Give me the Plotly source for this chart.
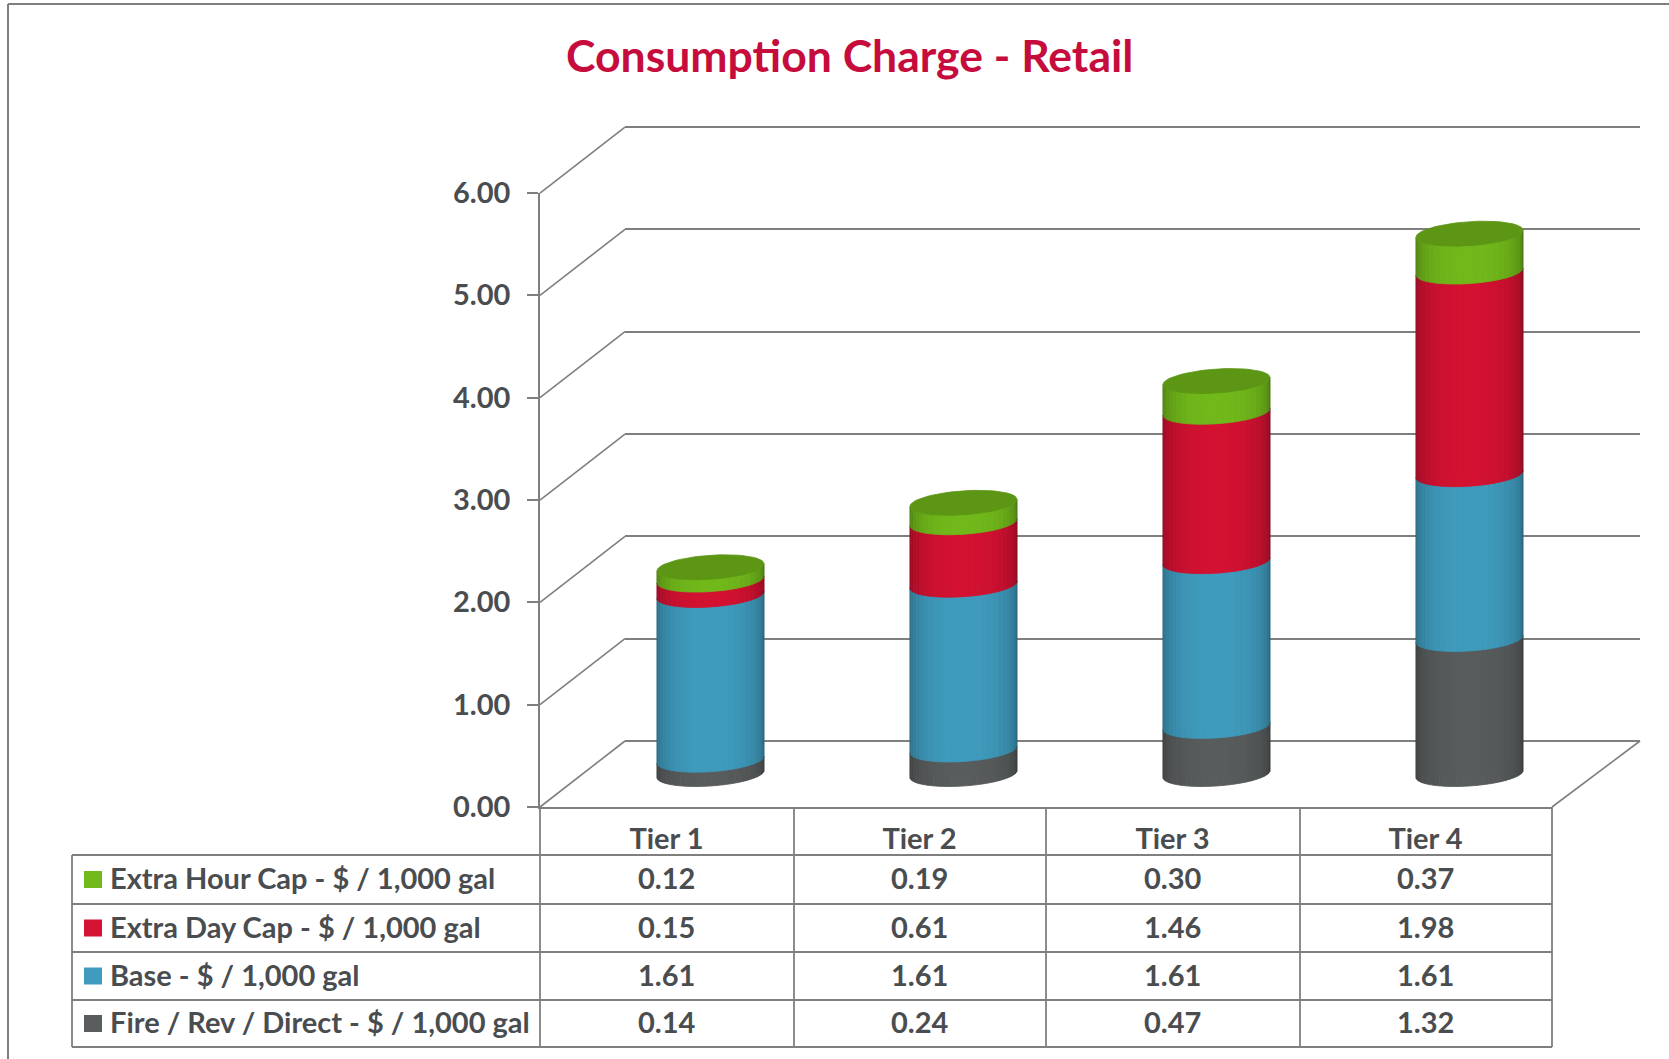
import math
import plotly.graph_objects as go

# ---- data ----
tiers = ["Tier 1", "Tier 2", "Tier 3", "Tier 4"]
fire = [0.14, 0.24, 0.47, 1.32]
base = [1.61, 1.61, 1.61, 1.61]
extra_day = [0.15, 0.61, 1.46, 1.98]
extra_hour = [0.12, 0.19, 0.30, 0.37]
y_ticks = [0, 1, 2, 3, 4, 5, 6]
name_fire = "Fire / Rev / Direct - $ / 1,000 gal"
name_base = "Base - $ / 1,000 gal"
name_day = "Extra Day Cap - $ / 1,000 gal"
name_hour = "Extra Hour Cap - $ / 1,000 gal"
title_text = "Consumption Charge - Retail"

# ---- geometry / style ----
W, H = 1669, 1059
FONT = "Lato"
TXT = "#4a4d50"
LINE = "#7f7f7f"
px = lambda v: v / W
py = lambda v: 1 - v / H
UNIT = 102.33          # pixels per value unit
CAT = 253.0            # pixels per category
A, B, S = 53.5, 12.0, 3.5   # cylinder ellipse, pixels
PAD = 0.3              # extra axis room (value units) so nothing is clipped at the ends

series = [
    dict(name=name_fire, vals=fire, col=(90, 93, 94), cap=(70, 72, 73)),
    dict(name=name_base, vals=base, col=(64, 156, 190), cap=(50, 130, 160)),
    dict(name=name_day, vals=extra_day, col=(212, 18, 50), cap=(170, 14, 40)),
    dict(name=name_hour, vals=extra_hour, col=(114, 186, 28), cap=(92, 150, 20)),
]


def rgb(c, f=1.0):
    return "rgb(%d,%d,%d)" % tuple(min(255, int(v * f)) for v in c)


def arc_dy(t):
    """vertical offset (value units) of the ellipse at angle t"""
    return -(B * math.sin(t) - S * math.cos(t)) / UNIT


def arc_dx(t):
    return A * math.cos(t) / CAT


fig = go.Figure()

# empty traces so every axis pair exists
fig.add_trace(go.Scatter(x=[], y=[], xaxis="x", yaxis="y", showlegend=False))
fig.add_trace(go.Scatter(x=[], y=[], xaxis="x2", yaxis="y2", showlegend=False))

# the stacked bars themselves
for s in series:
    fig.add_trace(go.Bar(x=list(range(len(tiers))), y=s["vals"], name=s["name"],
                         width=0.38, xaxis="x3", yaxis="y3", showlegend=False,
                         marker=dict(color=rgb(s["col"]), line=dict(width=0))))

# cylinder shading: strips across the round front of every stacked segment
N = 26
stack = [0.0] * len(tiers)
for s in series:
    for k in range(N):
        t0 = math.pi * (1 - k / N)
        t1 = math.pi * (1 - (k + 1) / N)
        tm = (t0 + t1) / 2
        sv = math.sin(tm)
        shade = 0.58 + 0.42 * sv ** 0.6
        xs, ys = [], []
        for i in range(len(tiers)):
            lo = stack[i]
            hi = stack[i] + s["vals"][i]
            xs += [i + arc_dx(t0), i + arc_dx(t1), i + arc_dx(t1), i + arc_dx(t0), i + arc_dx(t0), None]
            ys += [lo + arc_dy(t0), lo + arc_dy(t1), hi + arc_dy(t1), hi + arc_dy(t0), lo + arc_dy(t0), None]
        c = rgb(s["col"], shade)
        fig.add_trace(go.Scatter(x=xs, y=ys, mode="lines", fill="toself", fillcolor=c,
                                 line=dict(color=c, width=0.8), xaxis="x3", yaxis="y3",
                                 hoverinfo="skip", showlegend=False))
    stack = [a + b for a, b in zip(stack, s["vals"])]

# rounded top cap on the whole stack
M = 60
cx, cy = [], []
for i in range(len(tiers)):
    for k in range(M + 1):
        t = 2 * math.pi * k / M
        cx.append(i + arc_dx(t))
        cy.append(stack[i] + arc_dy(t))
    cx.append(None)
    cy.append(None)
top = series[-1]
fig.add_trace(go.Scatter(x=cx, y=cy, mode="lines", fill="toself", fillcolor=rgb(top["cap"]),
                         line=dict(color=rgb(top["cap"]), width=0.8), xaxis="x3", yaxis="y3",
                         hoverinfo="skip", showlegend=False))

# ---- frame, walls, table ----
shapes = []


def seg(x0, y0, x1, y1, color=LINE, width=1.6):
    shapes.append(dict(type="line", xref="paper", yref="paper", x0=px(x0), y0=py(y0),
                       x1=px(x1), y1=py(y1), line=dict(color=color, width=width)))


seg(8, 4, 8, H, width=2)
seg(8, 4, W, 4, width=2)

# side wall lines, from the front axis to the back wall
for v in y_ticks:
    seg(540, 807 - v * UNIT, 625, 741 - v * UNIT)
# floor right edge
seg(1552, 807, 1640, 741)

# table grid
col_x = [540, 794, 1046, 1300, 1552]
row_y = [855, 904, 952, 1000, 1047]
for y in row_y:
    seg(72, y, 1552, y, width=1.8)
seg(72, 855, 72, 1047, width=1.8)
for x in col_x:
    seg(x, 807, x, 1047, width=1.8)

# table rows, top row first
annotations = []
rows = list(reversed(series))
for r, s in enumerate(rows):
    yc = (row_y[r] + row_y[r + 1]) / 2
    shapes.append(dict(type="rect", xref="paper", yref="paper", x0=px(84), x1=px(102),
                       y0=py(yc - 8.5), y1=py(yc + 8.5), fillcolor=rgb(s["col"]), line=dict(width=0)))
    annotations.append(dict(text=s["name"], xref="paper", yref="paper", x=px(108), y=py(yc - 2),
                            xanchor="left", yanchor="middle", showarrow=False,
                            font=dict(family=FONT, size=29, color=TXT, weight="bold")))
    for i, v in enumerate(s["vals"]):
        annotations.append(dict(text="%.2f" % v, xref="x2", yref="paper", x=i, y=py(yc - 2),
                                xanchor="center", yanchor="middle", showarrow=False,
                                font=dict(family=FONT, size=29, color=TXT, weight="bold")))

annotations.append(dict(text=title_text, xref="paper", yref="paper", x=px(849), y=py(55),
                        xanchor="center", yanchor="middle", showarrow=False,
                        font=dict(family=FONT, size=44.5, color="#c60c3c", weight="bold")))

fig.update_layout(
    template="none",
    width=W, height=H, autosize=False,
    margin=dict(l=0, r=0, t=0, b=0, pad=0),
    paper_bgcolor="white", plot_bgcolor="rgba(0,0,0,0)",
    barmode="stack", bargap=0, showlegend=False,
    shapes=shapes, annotations=annotations,
    # back wall
    xaxis=dict(domain=[px(625), px(1640)], range=[0, 1], visible=False, anchor="y", automargin=False),
    yaxis=dict(domain=[py(741 + PAD * UNIT), py(127 - PAD * UNIT)], range=[-PAD, 6 + PAD], anchor="x",
               showgrid=True, gridcolor=LINE, gridwidth=1.6, zeroline=False, showticklabels=False,
               ticks="", showline=False, tickvals=y_ticks, automargin=False),
    # front axes, with the labels
    xaxis2=dict(domain=[px(540), px(1552)], range=[-0.5, 3.5], anchor="y2", automargin=False,
                tickvals=list(range(len(tiers))), ticktext=tiers, showgrid=False, zeroline=False,
                showline=True, linecolor=LINE, linewidth=1.8, ticks="", ticklabelstandoff=5,
                tickfont=dict(family=FONT, size=29, color=TXT, weight="bold")),
    yaxis2=dict(domain=[py(807), py(193)], range=[0, 6], anchor="x2", automargin=False,
                tickvals=y_ticks, tickformat=".2f", showgrid=False, zeroline=False,
                showline=True, linecolor=LINE, linewidth=1.8, ticks="outside", ticklen=11,
                tickcolor=LINE, tickwidth=1.6, ticklabelstandoff=11,
                tickfont=dict(family=FONT, size=29, color=TXT, weight="bold")),
    # bars stand half way into the floor
    xaxis3=dict(domain=[px(584), px(1596)], range=[-0.5, 3.5], anchor="y3", visible=False, automargin=False),
    yaxis3=dict(domain=[py(774 + PAD * UNIT), py(160)], range=[-PAD, 6], anchor="x3", visible=False, automargin=False),
)

fig.write_html("out.html", config=dict(displayModeBar=False),
               post_script="document.body.style.margin='0';document.body.style.overflow='hidden';")
